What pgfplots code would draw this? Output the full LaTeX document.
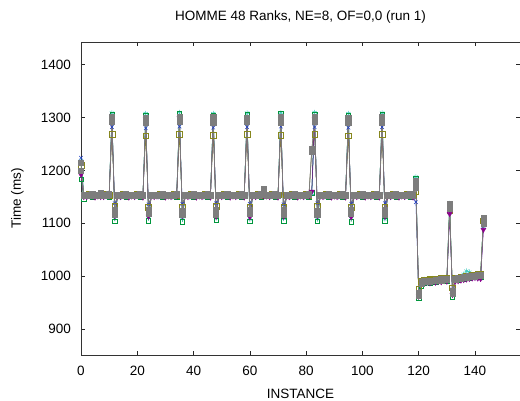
\documentclass[border=0pt]{standalone}
\usepackage{pgfplots}
\pgfplotsset{compat=1.18}
\usepackage{pgfplotstable}
\usepackage{fontspec}
\setmainfont{Liberation Sans}
\usetikzlibrary{calc}
\definecolor{cgray}{RGB}{125,125,125}
\definecolor{cpurple}{RGB}{140,0,140}
\definecolor{colive}{RGB}{135,135,30}
\definecolor{cgreen}{RGB}{0,150,60}
\definecolor{ccyan}{RGB}{60,200,190}
\definecolor{cblue}{RGB}{30,60,200}
\pgfplotstableread{
x g p o gr c b h
0 1200 1192 1210 1183 1218 1224 1214
1 1153 1150 1154 1146 1155 1151 1152
2 1154 1150 1154 1151 1153 1152 1153
3 1152 1152 1155 1153 1155 1149 1153
4 1155 1151 1153 1150 1156 1151 1154
5 1153 1149 1154 1152 1153 1150 1152
6 1153 1151 1154 1152 1154 1150 1154
7 1157 1150 1156 1152 1154 1151 1155
8 1154 1150 1153 1151 1153 1152 1153
9 1152 1152 1155 1153 1155 1149 1153
10 1155 1151 1153 1150 1156 1151 1154
11 1292 1298 1268 1306 1309 1282 1301
12 1125 1114 1132 1104 1109 1138 1117
13 1153 1151 1154 1152 1154 1150 1152
14 1154 1150 1153 1151 1153 1152 1153
15 1152 1152 1155 1153 1155 1149 1153
16 1155 1151 1153 1150 1156 1151 1154
17 1153 1149 1154 1152 1153 1150 1152
18 1153 1151 1154 1152 1154 1150 1154
19 1154 1150 1153 1151 1153 1152 1153
20 1152 1152 1155 1153 1155 1149 1153
21 1155 1151 1153 1150 1156 1151 1154
22 1153 1149 1154 1152 1153 1150 1152
23 1290 1297 1266 1305 1308 1280 1300
24 1126 1113 1130 1105 1110 1136 1118
25 1153 1151 1154 1152 1154 1150 1152
26 1154 1150 1153 1151 1153 1152 1153
27 1153 1151 1154 1152 1154 1150 1154
28 1152 1152 1155 1153 1155 1149 1153
29 1155 1151 1153 1150 1156 1151 1154
30 1153 1149 1154 1152 1153 1150 1152
31 1153 1151 1154 1152 1154 1150 1154
32 1154 1150 1153 1151 1153 1152 1153
33 1152 1152 1155 1153 1155 1149 1153
34 1155 1151 1153 1150 1156 1151 1154
35 1293 1299 1269 1307 1310 1283 1302
36 1124 1114 1131 1103 1108 1137 1116
37 1153 1151 1154 1152 1154 1150 1152
38 1154 1150 1153 1151 1153 1152 1153
39 1152 1152 1155 1153 1155 1149 1153
40 1155 1151 1153 1150 1156 1151 1154
41 1153 1149 1154 1152 1153 1150 1152
42 1153 1151 1154 1152 1154 1150 1154
43 1154 1150 1153 1151 1153 1152 1153
44 1152 1152 1155 1153 1155 1149 1153
45 1155 1151 1153 1150 1156 1151 1154
46 1153 1149 1154 1152 1153 1150 1152
47 1291 1298 1267 1305 1308 1281 1301
48 1125 1113 1132 1106 1110 1138 1117
49 1153 1151 1154 1152 1154 1150 1152
50 1154 1150 1153 1151 1153 1152 1153
51 1152 1152 1155 1153 1155 1149 1153
52 1155 1151 1153 1150 1156 1151 1154
53 1153 1149 1154 1152 1153 1150 1152
54 1153 1151 1154 1152 1154 1150 1154
55 1154 1150 1153 1151 1153 1152 1153
56 1152 1152 1155 1153 1155 1149 1153
57 1155 1151 1153 1150 1156 1151 1154
58 1153 1149 1154 1152 1153 1150 1152
59 1292 1297 1268 1306 1309 1282 1300
60 1126 1112 1131 1104 1108 1137 1118
61 1153 1151 1154 1152 1154 1150 1152
62 1154 1150 1153 1151 1153 1152 1153
63 1152 1152 1155 1153 1155 1149 1153
64 1155 1151 1153 1150 1156 1151 1154
65 1166 1151 1163 1152 1154 1150 1158
66 1153 1151 1154 1152 1154 1150 1154
67 1154 1150 1153 1151 1153 1152 1153
68 1152 1152 1155 1153 1155 1149 1153
69 1155 1151 1153 1150 1156 1151 1154
70 1153 1149 1154 1152 1153 1150 1152
71 1291 1298 1267 1307 1309 1283 1302
72 1125 1113 1130 1105 1109 1136 1116
73 1153 1151 1154 1152 1154 1150 1152
74 1154 1150 1153 1151 1153 1152 1153
75 1152 1152 1155 1153 1155 1149 1153
76 1155 1151 1153 1150 1156 1151 1154
77 1153 1149 1154 1152 1153 1150 1152
78 1153 1151 1154 1152 1154 1150 1154
79 1154 1150 1153 1151 1153 1152 1153
80 1152 1152 1155 1153 1155 1149 1153
81 1155 1151 1153 1150 1156 1151 1154
82 1240 1160 1238 1158 1156 1157 1236
83 1292 1297 1268 1306 1310 1282 1301
84 1124 1114 1132 1104 1108 1138 1117
85 1153 1151 1154 1152 1154 1150 1152
86 1154 1150 1153 1151 1153 1152 1153
87 1152 1152 1155 1153 1155 1149 1153
88 1155 1151 1153 1150 1156 1151 1154
89 1153 1149 1154 1152 1153 1150 1152
90 1153 1151 1154 1152 1154 1150 1154
91 1154 1150 1153 1151 1153 1152 1153
92 1152 1152 1155 1153 1155 1149 1153
93 1155 1151 1153 1150 1156 1151 1154
94 1153 1149 1154 1152 1153 1150 1152
95 1290 1298 1266 1305 1308 1281 1300
96 1126 1112 1131 1103 1109 1137 1118
97 1153 1151 1154 1152 1154 1150 1152
98 1154 1150 1153 1151 1153 1152 1153
99 1152 1152 1155 1153 1155 1149 1153
100 1155 1151 1153 1150 1156 1151 1154
101 1153 1149 1154 1152 1153 1150 1152
102 1153 1151 1154 1152 1154 1150 1154
103 1154 1150 1153 1151 1153 1152 1153
104 1152 1152 1155 1153 1155 1149 1153
105 1155 1151 1153 1150 1156 1151 1154
106 1153 1149 1154 1152 1153 1150 1152
107 1291 1297 1268 1306 1309 1282 1301
108 1125 1113 1130 1105 1108 1138 1116
109 1153 1151 1154 1152 1154 1150 1152
110 1154 1150 1153 1151 1153 1152 1153
111 1152 1152 1155 1153 1155 1149 1153
112 1155 1151 1153 1150 1156 1151 1154
113 1153 1149 1154 1152 1153 1150 1152
114 1153 1151 1154 1152 1154 1150 1154
115 1154 1150 1153 1151 1153 1152 1153
116 1152 1152 1155 1153 1155 1149 1153
117 1155 1151 1153 1150 1156 1151 1154
118 1153 1149 1154 1152 1153 1150 1152
119 1168 1178 1160 1185 1188 1140 1180
120 968 962 975 958 965 970 963
121 985 988 990 982 992 986 989
122 990 986 992 988 994 987 991
123 991 988 993 989 995 986 990
124 990 987 994 988 993 989 992
125 992 989 992 990 996 988 991
126 991 988 995 989 994 987 993
127 993 990 994 991 997 989 992
128 992 989 996 990 995 990 994
129 994 991 995 992 997 989 993
130 993 990 996 991 996 991 995
131 1128 1118 1125 1135 1138 1120 1136
132 972 965 978 960 968 975 966
133 994 990 996 992 997 991 995
134 995 991 997 993 998 992 996
135 996 992 998 994 999 993 997
136 997 993 999 995 1004 994 998
137 998 994 1000 996 1010 995 999
138 999 995 1001 997 1008 996 1000
139 1000 996 1002 998 1003 997 1001
140 1001 997 1003 999 1002 996 1000
141 1001 996 1004 998 1003 997 1002
142 1002 995 1005 999 1004 996 1001
143 1100 1088 1105 1112 1108 1095 1110
}\data
\begin{document}
\fontsize{13.5}{16}\selectfont
\begin{tikzpicture}
\begin{axis}[
  scale only axis, width=439pt, height=313pt,
  xmin=0, xmax=156, ymin=851, ymax=1443,
  xtick={0,20,...,140}, ytick={900,1000,...,1400},
  tick align=inside, major tick length=4pt,
  tick style={black!85, line width=0.6pt},
  axis line style={black!80, line width=0.8pt},
  /pgf/number format/assume math mode=true,
  /pgf/number format/1000 sep={},
  xticklabel style={anchor=base, yshift=-21pt, inner sep=0pt, font=\fontsize{13.5}{16}\selectfont},
  yticklabel style={anchor=east, xshift=-10pt, inner sep=0pt, font=\fontsize{13.5}{16}\selectfont},
  clip=false,
  every axis plot/.append style={line width=0.5pt},
]
\addplot[color=cblue, mark=x, mark size=2.5pt] table[x=x, y=b] {\data};
\addplot[color=ccyan, mark=asterisk, mark size=2.5pt] table[x=x, y=c] {\data};
\addplot[color=cgreen, mark=square, mark size=2.2pt] table[x=x, y=gr] {\data};
\addplot[color=colive, mark=square, mark size=2.8pt] table[x=x, y=o] {\data};
\addplot[color=cpurple, mark=triangle*, mark size=2.8pt, mark options={rotate=180}] table[x=x, y=p] {\data};
\addplot[color=cgray, mark=square*, mark size=2.6pt, line width=0.6pt] table[x=x, y=h] {\data};
\addplot[color=cgray, mark=square*, mark size=2.6pt, line width=0.6pt] table[x=x, y=g] {\data};
\end{axis}
\node[anchor=base] at ([yshift=21pt]current axis.north) {HOMME 48 Ranks, NE=8, OF=0,0 (run 1)};
\node[anchor=base] at ([yshift=-44pt]current axis.south) {INSTANCE};
\node[rotate=90, anchor=base] at ([xshift=-60pt]current axis.west) {Time (ms)};
\pgfresetboundingbox
\useasboundingbox ([xshift=-81pt,yshift=-46pt]current axis.south west) rectangle ([yshift=42pt]current axis.north east);
\end{tikzpicture}
\end{document}
